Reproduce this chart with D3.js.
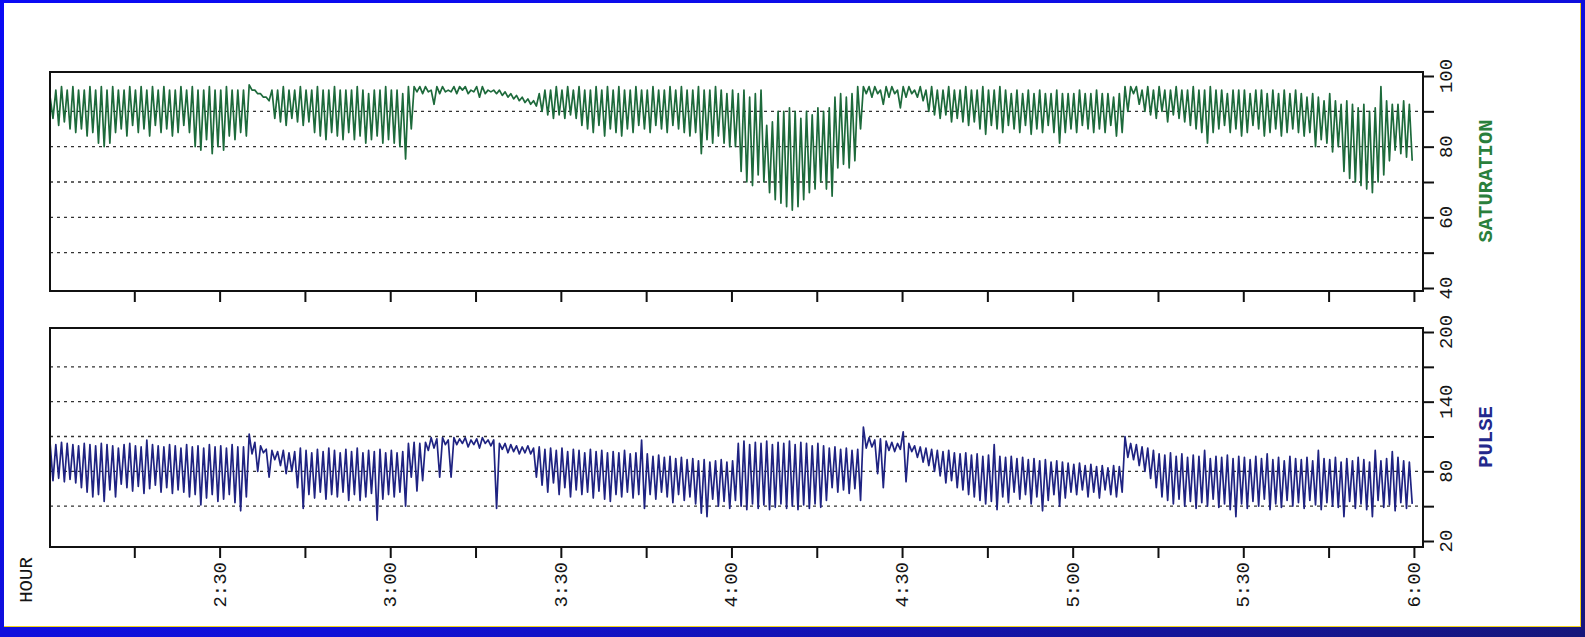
<!DOCTYPE html>
<html>
<head>
<meta charset="utf-8">
<script src="https://cdn.jsdelivr.net/npm/d3@7"></script>
<style>
  body { margin: 0; background: #fff; }
  svg { display: block; }
  .lbl { font-family: "Liberation Mono", "DejaVu Sans Mono", monospace; font-size: 19px; fill: #151515; }
  .title { font-family: "Liberation Mono", "DejaVu Sans Mono", monospace; font-size: 20.5px; font-weight: bold; }
</style>
</head>
<body>
<svg id="chart"></svg>
<script>
// one hi / lo pair per minute, starting 2:00
const satHi = [
  94,96,97,96,97,96,96,97,96,97,
  96,97,96,96,97,96,97,96,97,96,
  97,96,96,97,96,97,96,96,97,96,
  96,97,96,96,96,97.5,96,95,94,96,
  96,97,96,96,97,96,96,97,96,96,
  97,96,96,96,97,96,95,96,96,97,
  96,96,95,97,97,97,97,96,97,97,
  96,97,97,97,96,97,97,96,96,96,
  95.5,95,94.5,94,93.5,93,95,96,96,97,
  96,97,96,97,96,96,97,96,97,96,
  97,96,96,97,96,96,97,96,96,97,
  96,97,96,96,97,96,96,97,96,95,
  96,95,96,94,95,96,86,87,90,90,
  91,90,88,90,89,91,90,91,94,95,
  94,95,97,97,97,97,96,97,97,96,
  97,97,96,97,96,97,96,96,97,96,
  96,97,96,96,97,96,96,97,96,95,
  96,95,96,95,96,95,95,96,95,95,
  95,96,95,95,96,95,95,94,95,97,
  97,97,96,97,96,97,96,96,97,96,
  96,97,96,96,97,96,96,95,96,96,
  96,95,96,96,95,96,95,96,95,96,
  95,94,95,94,93,95,93,92,93,92,
  91,92,90,91,97,93,92,92,93,92
];
const satLo = [
  88,86,87,85,84,85,83,84,81,80,
  81,84,85,83,86,84,85,83,86,84,
  85,83,84,86,84,80,79,82,78,80,
  79,83,82,84,83,96,95,94,93,88,
  87,86,88,87,86,87,84,83,82,84,
  83,82,84,82,83,81,82,83,81,82,
  81,80,76.5,85,95.5,95,95.5,92,95,95.5,
  95.5,95,96,95,95.5,94,95,95.5,95,94.5,
  94,93.5,93,92.5,92,91.5,90,89,88,89,
  88,89,88,86,85,84,86,83,85,84,
  83,85,84,86,85,84,86,85,84,86,
  85,84,83,84,78,82,81,83,81,80,
  80,73,70,69,72,70,67,65,64,63,
  62,63,65,67,68,70,68,66,74,75,
  74,76,85,95,94,95,92,94,95,91,
  94,95,94,93,90,89,88,89,87,88,
  87,86,87,85,83.5,86,85,84,86,85,
  84,86,83.5,85,84,86,84,81,84,85,
  84,86,85,84,85,84,86,83,84,90,
  95,92,90,89,88,90,87,89,88,87,
  86,85,84,81,84,85,86,84,85,83,
  84,86,85,83,84,85,83,84,85,84,
  83,84,80,82,81,78.5,80,73,71,70,
  69,68,67,70,72,76,79,78,77,76
];
const pulseHi = [
  104,103,105,104,103,102,104,103,102,104,
  103,102,100,103,104,102,101,107,103,102,
  101,103,102,100,103,101,102,100,103,101,
  102,100,103,101,101,112,105,102,99,98,
  97,98,96,97,100,98,96,99,97,100,
  98,96,99,97,100,96,98,97,99,96,
  98,96,97,104,105,104,105,109,108,109,
  107,109,108,109,107,108,109,107,107,104,
  104,103,102,101,102,100,101,99,100,98,
  100,97,99,98,96,99,97,98,96,97,
  96,98,95,96,107,95,93,94,92,93,
  91,92,90,91,89,90,88,89,90,88,
  89,104,106,103,105,104,106,103,105,104,
  106,103,105,104,102,104,102,100,101,99,
  100,98,99,118,109,107,108,106,105,104,
  114,104,102,101,100,99,98,97,98,96,
  95,96,94,95,93,94,103,93,92,93,
  91,92,90,91,89,90,88,89,88,87,
  86,87,85,86,84,85,83,85,84,110,
  104,103,101,100,98,95,94,96,93,95,
  92,94,93,98,91,93,92,94,91,93,
  92,90,93,91,95,90,92,89,93,91,
  90,92,89,98,91,90,92,88,91,89,
  92,90,88,98,89,91,97,92,89,88
];
const pulseLo = [
  72,74,71,73,70,66,62,58,60,54,
  64,58,69,66,63,67,61,65,68,62,
  66,61,64,62,58,60,51,57,60,54,
  56,60,53,46,58,95,80,96,75,90,
  85,78,80,66,48,60,57,62,56,60,
  58,62,55,60,55,58,61,38,56,60,
  58,62,50,75,63,72,98,100,75,103,
  75,103,104,101,103,100,104,102,48,99,
  96,97,95,96,95,75,68,62,70,60,
  66,58,64,60,62,57,63,56,54,60,
  58,62,57,60,48,60,56,62,58,53,
  60,55,58,52,44,41,56,50,54,48,
  55,50,47,52,48,51,47,49,52,48,
  50,47,51,48,52,49,55,66,62,64,
  61,65,55,100,101,78,66,98,97,99,
  71,97,92,88,85,80,76,70,72,66,
  64,60,58,55,52,54,47,58,53,62,
  56,60,52,58,46,55,60,50,57,62,
  60,64,58,62,57,64,60,58,62,92,
  90,85,80,74,66,58,55,52,56,50,
  54,48,53,50,56,49,52,47,41,52,
  48,54,50,56,47,52,49,55,50,53,
  48,55,51,47,53,50,49,41,54,48,
  52,47,41,55,49,51,46,53,48,52
];

const satTicks = [40, 50, 60, 70, 80, 90, 100];
const satLabels = [40, 60, 80, 100];
const satGrid = [50, 60, 70, 80, 90];
const pulseTicks = [20, 50, 80, 110, 140, 170, 200];
const pulseLabels = [20, 80, 140, 200];
const pulseGrid = [50, 80, 110, 140, 170];
const hourTicks = [15, 30, 45, 60, 75, 90, 105, 120, 135, 150, 165, 180, 195, 210, 225, 240]; // minutes after 2:00
const hourLabels = ["2:30", "3:00", "3:30", "4:00", "4:30", "5:00", "5:30", "6:00"];

const width = 1585;
const height = 637;
const left = 50;
const right = 1423;

const svg = d3.select("#chart").attr("width", width).attr("height", height);

// page border
const grad = svg.append("defs").append("linearGradient")
  .attr("id", "edge").attr("x1", "0").attr("y1", "0").attr("x2", "1").attr("y2", "1");
grad.append("stop").attr("offset", "0").attr("stop-color", "#0a0af5");
grad.append("stop").attr("offset", "0.6").attr("stop-color", "#1010d8");
grad.append("stop").attr("offset", "1").attr("stop-color", "#16167a");
svg.append("rect").attr("width", width).attr("height", height).attr("fill", "url(#edge)");
svg.append("rect").attr("x", 4).attr("y", 3).attr("width", 1577).attr("height", 624).attr("fill", "#f2d21a");
svg.append("rect").attr("x", 4).attr("y", 3).attr("width", 1576).attr("height", 623).attr("fill", "#fff");

const xScale = d3.scaleLinear().domain([0, 241.6]).range([49, right]);

const parseHour = (s) => {
  const [h, mm] = s.split(":").map(Number);
  return (h - 2) * 60 + mm;
};

const toPoints = (hi, lo) => {
  const pts = [];
  hi.forEach((h, i) => {
    pts.push([i + 0.2, h]);
    pts.push([i + 0.7, lo[i]]);
  });
  return pts;
};

const drawPanel = (cfg) => {
  const yScale = d3.scaleLinear().domain(cfg.domain).range(cfg.range);
  const g = svg.append("g");

  g.append("clipPath").attr("id", cfg.id + "-clip")
    .append("rect").attr("x", left).attr("y", cfg.top)
    .attr("width", right - left).attr("height", cfg.bottom - cfg.top);

  g.selectAll(".grid")
    .data(cfg.grid)
    .enter()
    .append("line")
    .attr("x1", left).attr("x2", right)
    .attr("y1", (d) => yScale(d)).attr("y2", (d) => yScale(d))
    .attr("stroke", "#333")
    .attr("stroke-width", 1.3)
    .attr("stroke-dasharray", "3,4");

  const line = d3.line()
    .x((d) => xScale(d[0]))
    .y((d) => yScale(d[1]));

  g.append("path")
    .datum(toPoints(cfg.hi, cfg.lo))
    .attr("clip-path", `url(#${cfg.id}-clip)`)
    .attr("d", line)
    .attr("fill", "none")
    .attr("stroke", cfg.color)
    .attr("stroke-width", 1.7)
    .attr("stroke-linejoin", "round");

  g.append("rect")
    .attr("x", left).attr("y", cfg.top)
    .attr("width", right - left).attr("height", cfg.bottom - cfg.top)
    .attr("fill", "none").attr("stroke", "#111").attr("stroke-width", 2);

  const yAxis = d3.axisRight(yScale).tickValues(cfg.ticks).tickSize(11).tickFormat("");
  const ya = g.append("g").attr("transform", `translate(${right}, 0)`).call(yAxis);
  ya.select(".domain").remove();
  ya.selectAll("line").attr("stroke", "#111").attr("stroke-width", 2);

  g.selectAll(".ylab")
    .data(cfg.labels)
    .enter()
    .append("text")
    .attr("class", "lbl")
    .attr("text-anchor", "middle")
    .attr("transform", (d) => `translate(1452, ${yScale(d)}) rotate(-90)`)
    .text((d) => d);

  const xAxis = d3.axisBottom(xScale).tickValues(hourTicks).tickSize(11).tickFormat("");
  const xa = g.append("g").attr("transform", `translate(0, ${cfg.bottom})`).call(xAxis);
  xa.select(".domain").remove();
  xa.selectAll("line").attr("stroke", "#111").attr("stroke-width", 2);

  g.append("text")
    .attr("class", "title")
    .attr("fill", cfg.titleColor)
    .attr("text-anchor", "middle")
    .attr("transform", `translate(1492, ${cfg.titleY}) rotate(-90)`)
    .text(cfg.title);
};

drawPanel({
  id: "sat", top: 72, bottom: 291, domain: [40, 100], range: [288, 76],
  hi: satHi, lo: satLo, color: "#1d6a3b", grid: satGrid, ticks: satTicks, labels: satLabels,
  title: "SATURATION", titleColor: "#2a7f3c", titleY: 181
});

drawPanel({
  id: "pulse", top: 328, bottom: 547, domain: [20, 200], range: [541, 332],
  hi: pulseHi, lo: pulseLo, color: "#1f2382", grid: pulseGrid, ticks: pulseTicks, labels: pulseLabels,
  title: "PULSE", titleColor: "#23288c", titleY: 437
});

svg.selectAll(".xlab")
  .data(hourLabels)
  .enter()
  .append("text")
  .attr("class", "lbl")
  .attr("text-anchor", "end")
  .attr("transform", (d) => `translate(${xScale(parseHour(d)) + 6}, 562) rotate(-90)`)
  .text((d) => d);

svg.append("text")
  .attr("class", "lbl")
  .attr("text-anchor", "middle")
  .attr("transform", "translate(32, 580) rotate(-90)")
  .text("HOUR");
</script>
</body>
</html>
